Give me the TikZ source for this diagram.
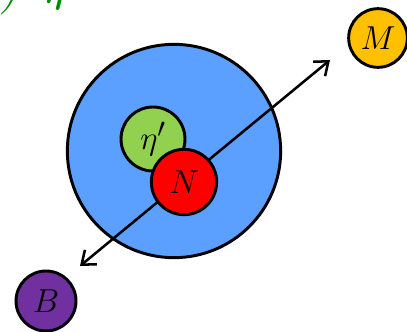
\documentclass[tikz,border=0pt]{standalone}
\usepackage{amsmath}
\usetikzlibrary{arrows.meta}
\definecolor{nucleusblue}{RGB}{92,160,255}
\definecolor{etagreen}{RGB}{146,208,80}
\definecolor{mesonorange}{RGB}{255,192,0}
\definecolor{baryonpurple}{RGB}{112,48,160}
\definecolor{labelgreen}{RGB}{0,140,0}
\begin{document}
\begin{tikzpicture}[x=0.75pt, y=-0.75pt,
	particle/.style={circle, draw=black, line width=2.2pt, inner sep=0pt, font=\fontsize{30}{34}\selectfont},
	decay/.style={line width=1.9pt, {Straight Barb[length=9pt, width=14pt, line width=1.9pt]}-{Straight Barb[length=9pt, width=14pt, line width=1.9pt]}}]
	\useasboundingbox (0, 0) rectangle (407, 332);
	% Nucleus and decay products:
	\node[particle, fill=nucleusblue, minimum size=160pt](Nucleus) at (174, 151){};
	\coordinate (TipB) at (80, 266);
	\coordinate (TipM) at (330, 60);
	\draw[decay] (TipB) -- (TipM);
	\node[particle, fill=etagreen, minimum size=48pt](Eta) at (153, 139){$\eta'$};
	\node[particle, fill=red, minimum size=49pt](Nuc) at (184, 182){$N$};
	\node[particle, fill=mesonorange, minimum size=44pt](Meson) at (378, 38){$M$};
	\node[particle, fill=baryonpurple, minimum size=45pt](Baryon) at (46, 301){$B$};
	% Cropped heading:
	\node[anchor=base west, text=labelgreen, font=\fontsize{34}{38}\selectfont, inner sep=0pt](Heading) at (-20, 3){\textit{b)}\;\;$\boldsymbol{\eta}$};
\end{tikzpicture}
\end{document}
